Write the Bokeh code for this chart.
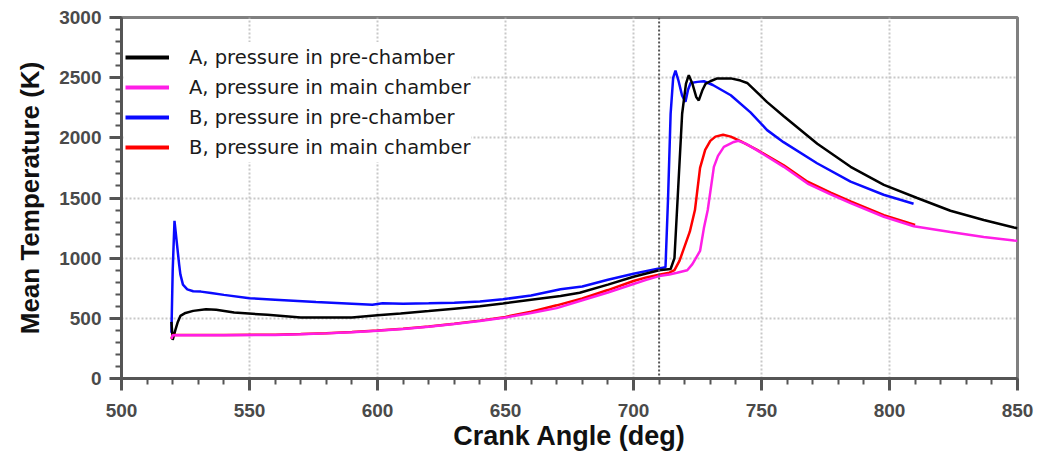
from bokeh.plotting import figure
from bokeh.models import SingleIntervalTicker, Span, Legend, LegendItem, Range1d
from bokeh.embed import file_html
from bokeh.resources import INLINE

# ---------------- data ----------------
labels = ["A, pressure in pre-chamber", "A, pressure in main chamber",
          "B, pressure in pre-chamber", "B, pressure in main chamber"]

a_pre_x = [519.5, 520, 521, 522, 523, 525, 528, 533, 537, 544, 557, 570, 590, 600, 609, 620, 630, 640,
           649, 660, 671.5, 679, 690, 700, 710, 714.5, 716, 717.5, 719, 720.5, 721.6, 723, 724.5, 725.5,
           727, 728.1, 730, 732.7, 738, 741.8, 744.4, 752.2, 758.7, 771.8, 784.8, 797.8, 810.8, 823.8,
           836.8, 848.6, 850]
a_pre_y = [470, 320, 400, 470, 520, 545, 562, 576, 572, 548, 529, 507, 507, 525, 540, 560, 580, 600,
           623, 655, 686, 713, 780, 845, 900, 910, 1000, 1600, 2200, 2450, 2521, 2450, 2340, 2311,
           2400, 2448, 2470, 2494, 2494, 2476, 2456, 2297, 2180, 1951, 1759, 1609, 1500, 1394,
           1317, 1255, 1248]

a_main_x = [519.5, 520, 540, 560, 570, 580, 590, 600, 610, 620, 630, 640, 650, 660, 670, 680, 690, 700,
            705, 710, 714, 717, 721, 723, 726, 727.5, 729, 731.4, 733, 735.3, 739.2, 741, 744, 748.3,
            758.7, 768, 777, 784.8, 797.8, 809.5, 823.8, 836.8, 848.6, 850]
a_main_y = [330, 360, 360, 362, 368, 375, 385, 397, 412, 430, 452, 478, 507, 545, 585, 650, 715, 785,
            820, 851, 865, 879, 900, 950, 1060, 1250, 1400, 1759, 1850, 1925, 1966, 1975, 1950, 1896,
            1759, 1620, 1530, 1458, 1344, 1265, 1217, 1175, 1147, 1145]

b_pre_x = [519.5, 520, 520.7, 521.5, 522.5, 523, 524, 525.7, 528, 531, 535, 540, 550, 560, 576, 590,
           598, 602, 610, 620, 630, 640, 649, 660, 671.5, 680, 690, 700, 710, 712.5, 713.5, 714.5,
           715.5, 716.4, 717.5, 719, 720.3, 721.3, 722.3, 725, 727.5, 731, 738, 745.7, 752.2, 758.6,
           771.7, 784.8, 797.7, 809.4]
b_pre_y = [380, 900, 1310, 1150, 950, 865, 780, 741, 725, 722, 710, 695, 667, 655, 636, 622,
           612, 625, 622, 625, 630, 640, 658, 690, 741, 765, 820, 870, 915, 925, 1500, 2200,
           2500, 2558, 2480, 2350, 2299, 2400, 2456, 2465, 2470, 2439, 2354, 2212, 2064, 1964,
           1789, 1636, 1527, 1452]

b_main_x = [519.5, 520, 540, 560, 570, 580, 590, 600, 610, 620, 630, 640, 650, 660, 670, 680, 690, 700,
            705, 710, 714, 716, 718, 720, 722, 724, 726, 728, 730, 732, 735, 738, 742, 748.3, 758.7,
            768, 777, 784.8, 797.8, 810]
b_main_y = [330, 362, 362, 364, 370, 377, 387, 399, 414, 432, 455, 481, 512, 555, 608, 665, 735, 810,
            840, 862, 880, 900, 980, 1100, 1220, 1400, 1750, 1900, 1975, 2010, 2025, 2010, 1970, 1900,
            1772, 1635, 1545, 1472, 1358, 1276]

colors = ["#000000", "#ff1ee6", "#0a0aff", "#ff0000"]
marker_angle = 710

# ---------------- figure ----------------
p = figure(width=1045, height=454, output_backend="svg", toolbar_location=None,
           x_range=Range1d(500, 850), y_range=Range1d(0, 3000),
           min_border_left=121, min_border_right=28, min_border_top=17, min_border_bottom=76,
           background_fill_color="white", border_fill_color="white")

p.xaxis.ticker = SingleIntervalTicker(interval=50, num_minor_ticks=5)
p.yaxis.ticker = SingleIntervalTicker(interval=500, num_minor_ticks=5)

for ax in (p.xaxis, p.yaxis):
    ax.axis_line_width = 3
    ax.axis_line_color = "#555555"
    ax.major_tick_line_color = "#555555"
    ax.major_tick_line_width = 3
    ax.major_tick_out = 12
    ax.major_tick_in = 0
    ax.minor_tick_line_color = "#555555"
    ax.minor_tick_line_width = 2
    ax.minor_tick_out = 6
    ax.minor_tick_in = 0
    ax.major_label_text_font = "Liberation Sans"
    ax.major_label_text_font_style = "bold"
    ax.major_label_text_font_size = "19px"
    ax.major_label_text_color = "#4a4a4a"
    ax.axis_label_text_font = "Liberation Sans"
    ax.axis_label_text_font_style = "bold"
    ax.axis_label_text_color = "#111111"

p.xaxis.axis_label = "Crank Angle (deg)"
p.yaxis.axis_label = "Mean Temperature (K)"
p.xaxis.axis_label_text_font_size = "27px"
p.yaxis.axis_label_text_font_size = "26px"
p.xaxis.major_label_standoff = 13
p.xaxis.axis_label_standoff = 1
p.yaxis.major_label_standoff = 8
p.yaxis.axis_label_standoff = 11

p.outline_line_color = "#808080"
p.outline_line_width = 3

for g in (p.xgrid, p.ygrid):
    g.grid_line_color = "#c8c8c8"
    g.grid_line_dash = "2 2"
    g.grid_line_width = 2

p.add_layout(Span(location=marker_angle, dimension="height", line_color="#555555",
                  line_dash="2 2", line_width=2))

r_bpre = p.line(b_pre_x, b_pre_y, line_color=colors[2], line_width=2.5)
r_apre = p.line(a_pre_x, a_pre_y, line_color=colors[0], line_width=2.5)
r_bmain = p.line(b_main_x, b_main_y, line_color=colors[3], line_width=2.5)
r_amain = p.line(a_main_x, a_main_y, line_color=colors[1], line_width=2.5)

nan = float("nan")
proxies = [p.line([nan], [nan], line_color=c, line_width=4) for c in colors]
legend = Legend(items=[LegendItem(label=l, renderers=[r]) for l, r in zip(labels, proxies)],
                location=(4, 216), glyph_width=44, glyph_height=30, label_height=30,
                label_standoff=20, spacing=0, padding=5, margin=0,
                label_text_font="DejaVu Sans", label_text_font_size="19.5px",
                label_text_color="#1a1a1a", border_line_color=None,
                background_fill_color="white", background_fill_alpha=1.0)
p.add_layout(legend)

open("out.html", "w").write(file_html(p, INLINE))
